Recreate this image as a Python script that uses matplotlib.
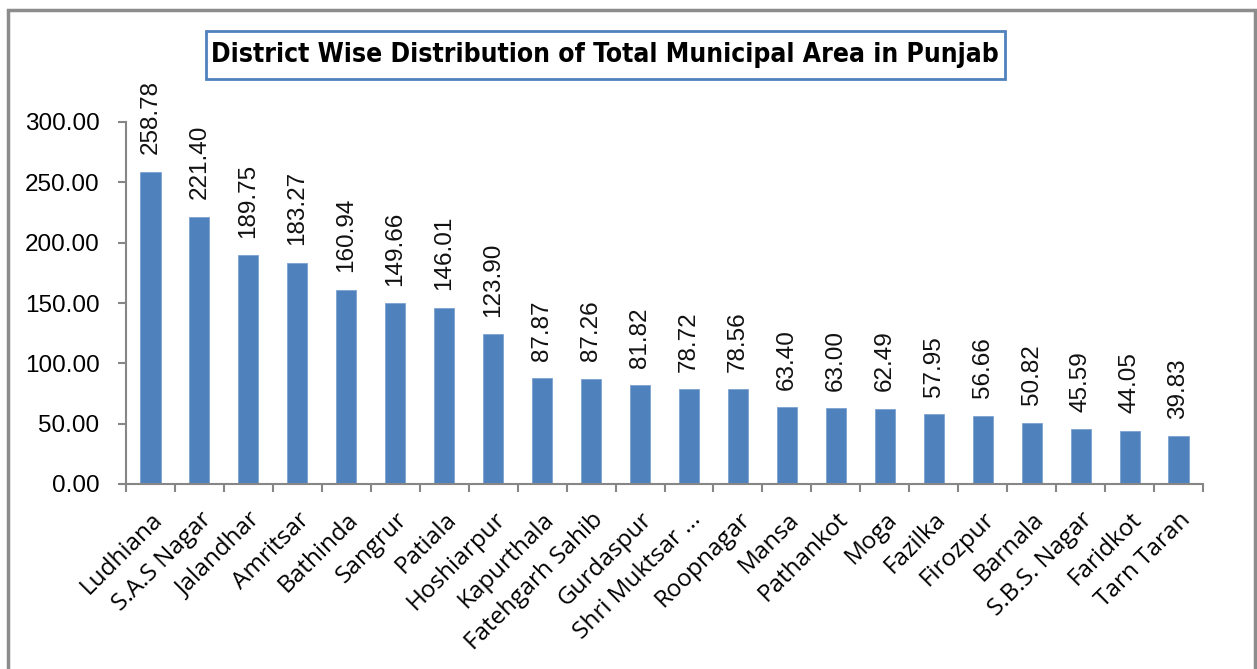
import matplotlib.pyplot as plt
from matplotlib.patches import Rectangle
from matplotlib.ticker import FormatStrFormatter, FixedLocator

# data
districts = ['Ludhiana', 'S.A.S Nagar', 'Jalandhar', 'Amritsar', 'Bathinda', 'Sangrur',
             'Patiala', 'Hoshiarpur', 'Kapurthala', 'Fatehgarh Sahib', 'Gurdaspur',
             'Shri Muktsar ...', 'Roopnagar', 'Mansa', 'Pathankot', 'Moga', 'Fazilka',
             'Firozpur', 'Barnala', 'S.B.S. Nagar', 'Faridkot', 'Tarn Taran']
area = [258.78, 221.40, 189.75, 183.27, 160.94, 149.66, 146.01, 123.90, 87.87, 87.26,
        81.82, 78.72, 78.56, 63.40, 63.00, 62.49, 57.95, 56.66, 50.82, 45.59, 44.05, 39.83]
yticks = [0, 50, 100, 150, 200, 250, 300]

W, H = 1257, 669
fig = plt.figure(figsize=(W / 100, H / 100), dpi=100)
ax = fig.add_axes([126 / W, 1 - 484 / H, (1203 - 126) / W, (484 - 122) / H])

x = list(range(len(districts)))
bars = ax.bar(x, area, width=0.41, color='#4F81BD', edgecolor='#7DA2D1', linewidth=0.6)

# value labels
for xi, v in zip(x, area):
    ax.annotate(f'{v:.2f}', (xi, v), xytext=(0, 12.5), textcoords='offset points',
                rotation=90, ha='center', va='bottom', fontsize=17.5,
                family='Liberation Sans', color='#111111')

ax.set_xlim(-0.5, len(districts) - 0.5)
ax.set_ylim(0, 300)
ax.set_yticks(yticks)
ax.yaxis.set_major_formatter(FormatStrFormatter('%.2f'))
ax.tick_params(axis='y', length=6, width=1.5, color='#868686', pad=13, labelsize=17.5)
for lab in ax.get_yticklabels():
    lab.set_family('Liberation Sans')

# category ticks between bars, labels at bar centres
ax.xaxis.set_major_locator(FixedLocator([i - 0.5 for i in range(len(districts) + 1)]))
ax.xaxis.set_major_formatter(plt.NullFormatter())
ax.xaxis.set_minor_locator(FixedLocator(x))
ax.set_xticklabels(districts, minor=True, rotation=45, ha='right', rotation_mode='anchor',
                   fontsize=17.5, family='Open Sans')
ax.tick_params(axis='x', which='major', length=6, width=1.5, color='#868686')
ax.tick_params(axis='x', which='minor', length=0, pad=17)

for s in ['top', 'right']:
    ax.spines[s].set_visible(False)
for s in ['left', 'bottom']:
    ax.spines[s].set_color('#868686')
    ax.spines[s].set_linewidth(1.5)

# title in a box
fig.text(605 / W, 1 - 55 / H, 'District Wise Distribution of Total Municipal Area in Punjab',
         ha='center', va='center', fontsize=19, fontweight='bold',
         fontstretch='condensed', family='DejaVu Sans')
fig.patches.append(Rectangle((206 / W, 1 - 79 / H), (1005 - 206) / W, 48 / H,
                             transform=fig.transFigure, fill=False,
                             edgecolor='#4F81BD', linewidth=2))

# outer chart frame
fig.patches.append(Rectangle((8 / W, -0.01), (1255 - 8) / W, 1.01 - 10 / H,
                             transform=fig.transFigure, fill=False,
                             edgecolor='#8C8C8C', linewidth=2.5))

fig.savefig('out.png', dpi=100)
